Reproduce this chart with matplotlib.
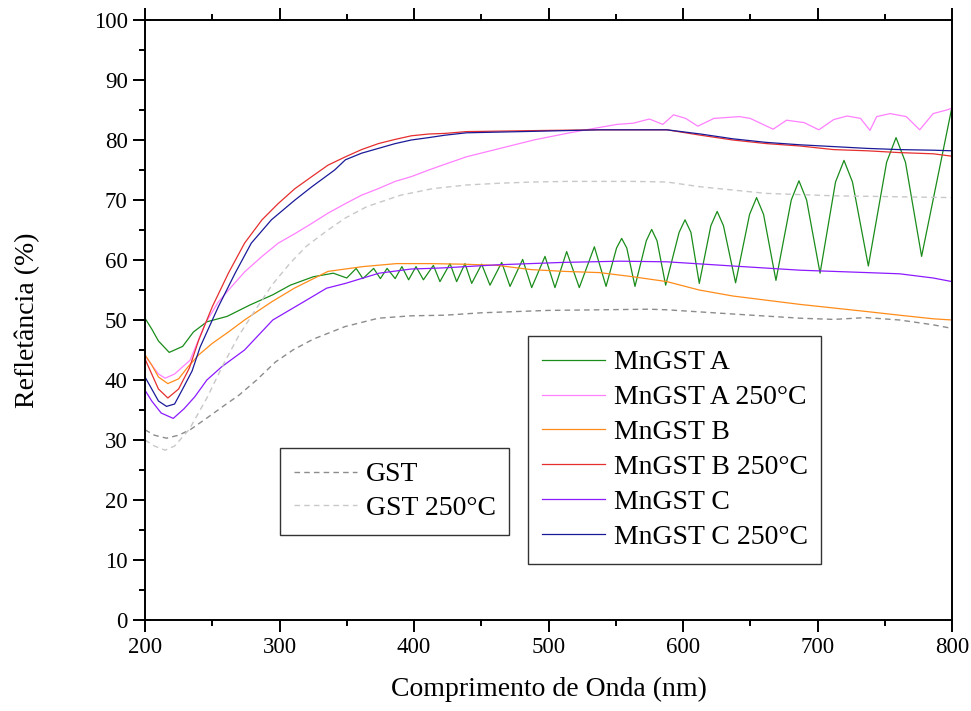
import matplotlib
matplotlib.use('Agg')
import matplotlib.pyplot as plt
from matplotlib.ticker import MultipleLocator

# ---- data (wavelength nm, reflectance %) ----
mngst_a_x = [200, 205, 210, 218, 228, 236, 246, 261, 278, 295, 308, 325, 340, 350,
             357, 362, 370, 375, 380, 386, 391, 396, 401.5, 407, 414.4, 419.3, 426.8,
             431.7, 437.9, 442.9, 450.3, 456.5, 465.2, 471.4, 480.8, 487.5, 497.4,
             504.8, 513.5, 522.9, 534.1, 542.8, 550.6, 554.4, 558.2, 564.3, 572.7, 576.7,
             580.7, 587.1, 597.1, 601.5, 605.9, 612.1, 620.7, 625.4, 630.1, 639.1, 649.5,
             654.7, 659.9, 669.1, 680.5, 686.2, 691.9, 701.9, 713.4, 719.7, 726, 737.8,
             751.4, 758.4, 765.4, 777.4, 799.8]
mngst_a_y = [50.3, 48.5, 46.5, 44.6, 45.6, 48.0, 49.7, 50.6, 52.5, 54.2, 55.8, 57.2, 57.8, 57.0,
             58.6, 56.9, 58.6, 56.9, 58.6, 56.9, 58.9, 56.7, 58.9, 56.7, 59.1, 56.4, 59.4,
             56.4, 59.4, 56.1, 59.3, 55.8, 59.6, 55.6, 60.1, 55.4, 60.6,
             55.4, 61.4, 55.4, 62.2, 55.6, 62.0, 63.6, 62.0, 55.6, 63.2, 65.1,
             63.2, 55.8, 64.6, 66.7, 64.6, 56.1, 65.7, 68.1, 65.7, 56.2, 67.6,
             70.4, 67.6, 56.6, 70.0, 73.2, 70.0, 57.8, 73.0, 76.6, 73.0, 59.0,
             76.3, 80.4, 76.3, 60.6, 85.3]

mngst_a250_x = [200, 205, 210, 215, 222, 233.5, 245, 254.5, 264.5, 274, 287, 299, 311.5,
                324, 336, 349, 361, 373.5, 386, 398, 411, 421, 439, 464, 489, 513.5,
                533, 551, 563, 575, 585, 593, 602, 611, 623, 642, 650, 667, 677, 690,
                701, 712, 722, 732, 739, 744, 754, 766, 776, 786, 796, 800]
mngst_a250_y = [44.0, 42.5, 41.0, 40.3, 41.0, 43.3, 49.5, 53.0, 55.6, 58.0, 60.6, 62.8, 64.4,
                66.1, 67.8, 69.4, 70.8, 71.9, 73.1, 73.9, 75.0, 75.8, 77.2, 78.6, 80.0, 81.1,
                81.9, 82.6, 82.8, 83.5, 82.6, 84.2, 83.6, 82.3, 83.6, 83.9, 83.6, 81.8, 83.3, 82.9,
                81.7, 83.4, 84.0, 83.6, 81.6, 83.9, 84.4, 83.9, 81.7, 84.4, 85.0, 85.3]

mngst_b_x = [200, 205, 210, 217, 225, 232, 240, 250, 262, 274, 294, 311, 336, 362, 387,
             412, 437, 462, 487, 512, 538, 563, 588, 612, 637, 662, 687, 712, 737, 761,
             786, 800]
mngst_b_y = [44.2, 42.5, 40.5, 39.4, 40.2, 42.2, 44.2, 46.1, 48.0, 50.0, 53.0, 55.3, 58.1,
             58.9, 59.4, 59.4, 59.3, 59.1, 58.4, 58.1, 57.9, 57.2, 56.4, 55.0, 54.0, 53.3,
             52.6, 52.0, 51.4, 50.8, 50.2, 50.0]

mngst_b250_x = [200, 205, 210, 217, 225, 233, 240, 250, 262, 274, 287, 299, 311.5, 324,
                336, 349, 361, 373.5, 386, 398, 411, 423, 439, 500, 538, 588, 613, 637,
                662, 687, 712, 737, 761, 786, 800]
mngst_b250_y = [43.5, 41.0, 38.5, 37.0, 38.5, 42.0, 46.7, 52.2, 57.8, 62.8, 66.7, 69.4, 71.9,
                73.9, 75.8, 77.2, 78.4, 79.4, 80.1, 80.7, 81.0, 81.1, 81.4, 81.6, 81.7, 81.7,
                80.8, 80.0, 79.4, 79.0, 78.4, 78.2, 77.9, 77.7, 77.3]

mngst_c_x = [200, 205, 212, 221, 229, 237, 246, 257, 274, 295, 320, 335, 349, 374, 398,
             412, 423, 462, 511, 553, 588, 637, 687, 737, 761, 786, 800]
mngst_c_y = [38.3, 36.5, 34.5, 33.6, 35.2, 37.2, 40.0, 42.2, 45.0, 50.0, 53.3, 55.3, 56.1,
             57.8, 58.5, 58.6, 58.7, 59.2, 59.6, 59.8, 59.7, 59.0, 58.3, 57.9, 57.7, 57.0, 56.4]

mngst_c250_x = [200, 205, 210, 216, 222, 228, 235, 241, 254.5, 267, 279, 294, 311.5, 324,
                341, 349, 361, 373.5, 386, 398, 411, 423, 439, 500, 538, 588, 613, 637,
                662, 687, 712, 737, 761, 786, 800]
mngst_c250_y = [40.5, 38.5, 36.5, 35.6, 36.0, 38.5, 41.5, 45.5, 52.2, 57.8, 62.8, 66.7, 70.0,
                72.2, 75.0, 76.7, 77.8, 78.6, 79.4, 80.0, 80.4, 80.8, 81.2, 81.5, 81.7, 81.7,
                81.0, 80.2, 79.6, 79.2, 78.9, 78.6, 78.4, 78.3, 78.2]

gst_x = [200, 207, 216, 225, 233.5, 245, 258, 270, 283, 297, 310, 325, 348.7, 373.5, 398,
         423, 450, 500, 538, 575, 588, 637, 687, 712, 736, 761, 786, 800]
gst_y = [31.7, 30.8, 30.3, 30.8, 31.7, 33.5, 35.6, 37.5, 40.0, 43.0, 45.0, 46.8, 48.9, 50.3,
         50.7, 50.8, 51.2, 51.6, 51.7, 51.8, 51.7, 51.0, 50.3, 50.1, 50.4, 50.0, 49.2, 48.6]

gst250_x = [200, 207, 215, 222, 233, 246, 258, 270, 283, 295, 308, 320, 336, 349, 365,
            390, 414, 439, 464, 489, 514, 563, 588, 613, 662, 712, 800]
gst250_y = [30.0, 29.0, 28.3, 29.0, 31.8, 37.0, 42.5, 47.5, 52.0, 56.0, 59.5, 62.3, 65.0,
            67.0, 68.9, 70.8, 71.9, 72.5, 72.8, 73.0, 73.1, 73.1, 73.0, 72.2, 71.1, 70.7, 70.4]

plt.rcParams['font.family'] = ['Liberation Serif', 'DejaVu Serif']

fig = plt.figure(figsize=(9.71, 7.11), dpi=100)
ax = fig.add_axes([145 / 971, 1 - 620 / 711, 807 / 971, 600 / 711])

lw = 0.9
h_a, = ax.plot(mngst_a_x, mngst_a_y, color='#1a8c1a', lw=lw, label='MnGST A')
h_a2, = ax.plot(mngst_a250_x, mngst_a250_y, color='#ff80ff', lw=lw, label='MnGST A 250°C')
h_b, = ax.plot(mngst_b_x, mngst_b_y, color='#ff8c1a', lw=lw, label='MnGST B')
h_b2, = ax.plot(mngst_b250_x, mngst_b250_y, color='#e62e2e', lw=lw, label='MnGST B 250°C')
h_c, = ax.plot(mngst_c_x, mngst_c_y, color='#8c1aff', lw=lw, label='MnGST C')
h_c2, = ax.plot(mngst_c250_x, mngst_c250_y, color='#1a1a99', lw=lw, label='MnGST C 250°C')
h_g, = ax.plot(gst_x, gst_y, color='#8c8c8c', lw=1.0, dashes=(4, 3), label='GST')
h_g2, = ax.plot(gst250_x, gst250_y, color='#c8c8c8', lw=1.0, dashes=(4, 3), label='GST 250°C')

ax.set_xlim(200, 800)
ax.set_ylim(0, 100)
ax.xaxis.set_major_locator(MultipleLocator(100))
ax.xaxis.set_minor_locator(MultipleLocator(50))
ax.yaxis.set_major_locator(MultipleLocator(10))
ax.yaxis.set_minor_locator(MultipleLocator(5))

# ticks out on bottom, left and top, nothing on the right
ax.tick_params(which='both', direction='out', width=1.4, labelsize=16.5,
               bottom=True, left=True, top=True, right=False, pad=4)
ax.tick_params(which='major', length=8.5)
ax.tick_params(which='minor', length=4.5)
for s in ax.spines.values():
    s.set_linewidth(1.4)

ax.set_xlabel('Comprimento de Onda (nm)', fontsize=20)
ax.set_ylabel('Refletância (%)', fontsize=20)
ax.xaxis.set_label_coords(0.5, -0.095)
ax.yaxis.set_label_coords(-0.13, 0.5)

leg1 = ax.legend(handles=[h_a, h_a2, h_b, h_b2, h_c, h_c2], loc='upper left',
                 bbox_to_anchor=((528 - 145) / 807, (620 - 336) / 600),
                 fontsize=20, frameon=True, fancybox=False, framealpha=1,
                 edgecolor='#333333', borderpad=0.5, labelspacing=0.34,
                 handlelength=2.28, handletextpad=0.3, borderaxespad=0)
leg1.get_frame().set_linewidth(1.0)
ax.add_artist(leg1)

leg2 = ax.legend(handles=[h_g, h_g2], loc='upper left',
                 bbox_to_anchor=((280 - 145) / 807, (620 - 448) / 600),
                 fontsize=20, frameon=True, fancybox=False, framealpha=1,
                 edgecolor='#333333', borderpad=0.5, labelspacing=0.3,
                 handlelength=2.28, handletextpad=0.3, borderaxespad=0)
leg2.get_frame().set_linewidth(1.0)

fig.savefig('out.png', dpi=100)
